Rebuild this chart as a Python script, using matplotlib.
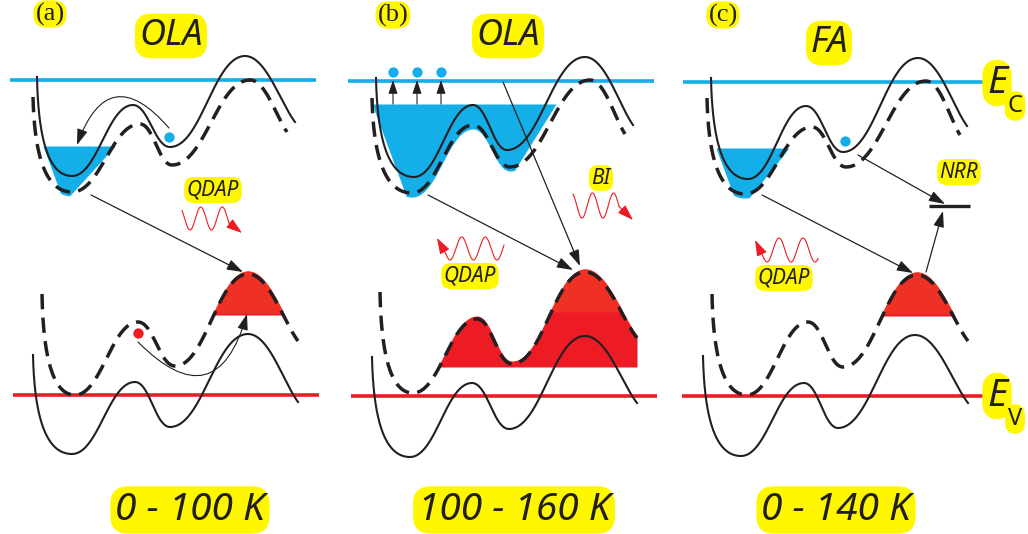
import numpy as np
import matplotlib
matplotlib.use("Agg")
import matplotlib.pyplot as plt

W, H = 1028, 534
BLUE = "#14AEE8"
RED = "#ED1C24"
RED_TOP = "#EE3124"
INK = "#231F20"
YEL = "#FFF700"

# ---- band edges: level y and x-extent for panels a, b, c ----
ec_level = [80, 81, 82]
ec_span = [(10, 316), (348, 654), (683, 990)]
ev_level = [395, 396, 396]
ev_span = [(13, 319), (351, 657), (682, 988)]

# ---- potential profiles: end points and turning points (x, y) ----
a_cb_solid = [(37, 77), (72, 176), (133, 105), (170, 147), (245, 56), (295, 122)]
a_cb_dash = [(33, 97), (72, 192), (140, 124), (172, 165), (250, 80), (287, 132)]
a_vb_solid = [(33, 355), (72, 454), (135, 382), (170, 427), (248, 334), (298, 402)]
a_vb_dash = [(42, 294), (75, 395), (138, 322), (175, 366), (248, 274), (298, 341)]

b_cb_solid = [(376, 78), (414, 177), (473, 105), (507, 150), (585, 57), (633, 125)]
b_cb_dash = [(372, 98), (412, 193), (473, 125), (510, 167), (590, 80), (625, 134)]
b_vb_solid = [(372, 357), (410, 457), (472, 383), (509, 429), (585, 336), (637, 403)]
b_vb_dash = [(380, 292), (413, 393), (477, 319), (512, 364), (585, 272), (637, 338)]

c_cb_solid = [(711, 78), (748, 179), (806, 106), (843, 152), (918, 58), (967, 126)]
c_cb_dash = [(707, 98), (745, 194), (812, 127), (846, 167), (926, 81), (960, 135)]
c_vb_solid = [(703, 356), (741, 456), (804, 383), (838, 428), (915, 335), (968, 403)]
c_vb_dash = [(712, 294), (747, 395), (808, 322), (843, 367), (917, 275), (968, 341)]

# ---- filled carrier pools (electrons) and hills (holes) ----
pool_top = [146, 104, 148]
pool_left = [43, 372, 716]
pool_right = [115, 556, 789]
pool_slope = [1.1, 1.6, 1.25]
hill_base = [315, 367, 316]
hill_range = [(200, 300), (440, 637), (870, 970)]

panel_tags = ["(a)", "(b)", "(c)"]
panel_tag_xy = [(50, 14), (393, 15), (723, 15)]
material = ["OLA", "OLA", "FA"]
material_xy = [(171, 36), (508, 36), (829, 43)]
temp_range = ["0 - 100 K", "100 - 160 K", "0 - 140 K"]
temp_xy = [(190, 510), (514, 510), (836, 510)]


def profile(knots, n=120):
    """Smooth potential curve through turning points (cubic Bezier pieces)."""
    xs, ys = [], []
    k = len(knots)
    t = np.linspace(0, 1, n)
    for i in range(k - 1):
        x0, y0 = knots[i]
        x1, y1 = knots[i + 1]
        dx, dy = x1 - x0, y1 - y0
        if i == 0:
            c1 = (x0 + 0.04 * dx, y0 + 0.72 * dy)
            c2 = (x1 - 0.58 * dx, y1)
        else:
            c1 = (x0 + 0.42 * dx, y0)
            c2 = (x1 - 0.42 * dx, y1)
        if i == k - 2:
            c2 = (x1 - 0.3 * dx, y1 - 0.3 * dy)
        bx = (1 - t) ** 3 * x0 + 3 * (1 - t) ** 2 * t * c1[0] + 3 * (1 - t) * t ** 2 * c2[0] + t ** 3 * x1
        by = (1 - t) ** 3 * y0 + 3 * (1 - t) ** 2 * t * c1[1] + 3 * (1 - t) * t ** 2 * c2[1] + t ** 3 * y1
        xs.append(bx if i == 0 else bx[1:])
        ys.append(by if i == 0 else by[1:])
    return np.concatenate(xs), np.concatenate(ys)


fig = plt.figure(figsize=(W / 100, H / 100), dpi=100)
ax = fig.add_axes([0, 0, 1, 1])
ax.set_xlim(0, W)
ax.set_ylim(H, 0)
ax.axis("off")


def arrow(start, end, color=INK, lw=0.9, ms=13, rad=None):
    props = dict(arrowstyle="-|>,head_length=0.75,head_width=0.25", color=color, lw=lw,
                 mutation_scale=ms, shrinkA=0, shrinkB=0)
    if rad is not None:
        props["connectionstyle"] = f"arc3,rad={rad}"
    ax.annotate("", xy=end, xytext=start, arrowprops=props, zorder=6)


def wave(x0, x1, crest, trough, period, trough_x, tip):
    x = np.linspace(x0, x1, 200)
    yc, amp = (crest + trough) / 2, (trough - crest) / 2
    y = yc + amp * np.cos(2 * np.pi * (x - trough_x) / period)
    ax.plot(x, y, color=RED, lw=0.8, zorder=5)
    end = (x[-1], y[-1]) if abs(tip[0] - x[-1]) < abs(tip[0] - x[0]) else (x[0], y[0])
    arrow(end, tip, color=RED, lw=0.8, ms=13)


def label(x, y, s, size, **kw):
    style = dict(ha="center", va="center", fontsize=size, color=INK, family="Noto Sans",
                 style="italic", zorder=8,
                 bbox=dict(boxstyle="round,pad=0.12,rounding_size=0.45", fc=YEL, ec="none"))
    style.update(kw)
    ax.text(x, y, s, **style)


cb_solids = [a_cb_solid, b_cb_solid, c_cb_solid]
cb_dashes = [a_cb_dash, b_cb_dash, c_cb_dash]
vb_solids = [a_vb_solid, b_vb_solid, c_vb_solid]
vb_dashes = [a_vb_dash, b_vb_dash, c_vb_dash]

for p in range(3):
    # band edge lines
    ax.plot(ec_span[p], [ec_level[p]] * 2, color=BLUE, lw=2.6, zorder=2, solid_capstyle="butt")
    ax.plot(ev_span[p], [ev_level[p]] * 2, color=RED, lw=2.6, zorder=2, solid_capstyle="butt")

    # electron pool below the conduction-band dashed profile
    dx, dy = profile(cb_dashes[p])
    xg = np.linspace(pool_left[p] - 15, pool_right[p] + 15, 900)
    low = np.interp(xg, dx, dy) + 4
    top = pool_top[p]
    low = np.minimum(low, top + (pool_right[p] - xg) * pool_slope[p])
    low = np.minimum(low, top + (xg - pool_left[p]) * 2.7)
    ax.fill_between(xg, top, low, where=low > top, interpolate=True, color=BLUE, lw=0, zorder=1)

    # hole hill above the valence-band dashed profile
    vx, vy = profile(vb_dashes[p])
    h0, h1 = hill_range[p]
    xg = np.linspace(h0, h1, 900)
    hill = np.interp(xg, vx, vy) - 3
    base = hill_base[p]
    ax.fill_between(xg, hill, base, where=hill < base, interpolate=True, color=RED, lw=0, zorder=1)
    split = 312 if p == 1 else base - 2
    ax.fill_between(xg, hill, split, where=hill < split, interpolate=True,
                    color=RED_TOP, lw=0, zorder=1)

    # profiles
    for knots, dashed in ((cb_solids[p], False), (cb_dashes[p], True),
                          (vb_solids[p], False), (vb_dashes[p], True)):
        x, y = profile(knots)
        if dashed:
            ax.plot(x, y, color=INK, lw=2.5, dashes=(4.4, 2.4), zorder=4)
        else:
            ax.plot(x, y, color=INK, lw=1.5, zorder=4)

    # labels
    ax.text(*panel_tag_xy[p], panel_tags[p], ha="center", va="center", fontsize=19,
            family="Liberation Serif", color=INK, zorder=8,
            bbox=dict(boxstyle="round,pad=0.08,rounding_size=0.5", fc=YEL, ec="none"))
    label(*material_xy[p], material[p], 26)
    label(*temp_xy[p], temp_range[p], 28)

# ---- panel (a): trapping and recombination via localized states ----
ax.scatter([169], [137], s=55, color=BLUE, zorder=7, lw=0)
ax.scatter([138], [333], s=55, color=RED, zorder=7, lw=0)
arrow((169, 128), (77, 145), lw=0.8, rad=0.85)
arrow((138, 342), (247, 314), lw=0.8, rad=0.85)
arrow((91, 195), (243, 272))
wave(182, 229, 207, 230, 21.5, 190, (242, 233))
label(213, 190, "QDAP", 15)

# ---- panel (b): thermal release and band-to-band recombination ----
for xd in (393, 417, 441):
    arrow((xd, 104), (xd, 80), lw=0.8, ms=11)
ax.scatter([393, 417, 441], [72, 72, 72], s=55, color=BLUE, zorder=7, lw=0)
arrow((503, 82), (580, 266))
arrow((428, 195), (573, 270))
wave(573, 619, 193, 218, 21, 582, (633, 220))
label(601, 178, "BI", 15)
wave(446, 504, 237, 260, 23.5, 450, (437, 238))
label(470, 276, "QDAP", 15)

# ---- panel (c): non-radiative recombination centre ----
ax.scatter([845], [141], s=55, color=BLUE, zorder=7, lw=0)
ax.plot([929, 970], [206, 206], color=INK, lw=2.4, zorder=5, solid_capstyle="butt")
arrow((858, 155), (945, 204))
arrow((926, 272), (943, 211))
arrow((762, 195), (913, 273))
label(959, 172, "NRR", 15)
wave(764, 818, 238, 262, 24, 767, (755, 240))
label(784, 278, "QDAP", 15)

# band edge names
label(997, 83, "E", 28)
label(1015, 106, "C", 17, style="normal")
label(997, 396, "E", 28)
label(1015, 419, "V", 17, style="normal")

fig.savefig("out.png", dpi=100)
